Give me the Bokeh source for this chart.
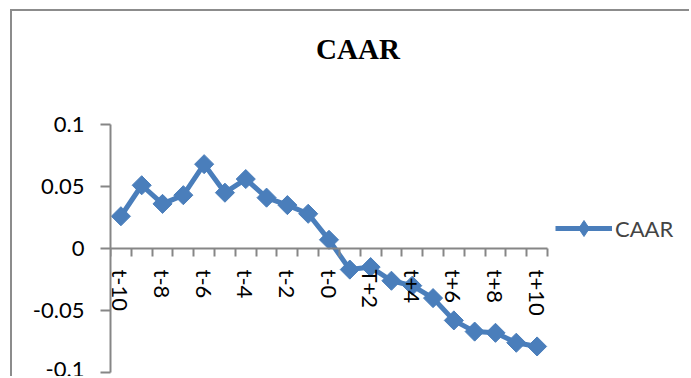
import numpy as np
from bokeh.plotting import figure
from bokeh.models import (Range1d, FixedTicker, LinearAxis, NumeralTickFormatter,
                          Legend, LegendItem, Label)
from bokeh.embed import file_html
from bokeh.resources import INLINE

# ---- data ----
categories = ["t-10", "t-9", "t-8", "t-7", "t-6", "t-5", "t-4", "t-3", "t-2", "t-1", "t-0",
              "t+1", "T+2", "t+3", "t+4", "t+5", "t+6", "t+7", "t+8", "t+9", "t+10"]
caar = [0.026, 0.051, 0.036, 0.043, 0.068, 0.045, 0.056, 0.041, 0.035, 0.028, 0.007,
        -0.017, -0.015, -0.026, -0.030, -0.040, -0.058, -0.067, -0.068, -0.076, -0.079]
y_ticks = [-0.1, -0.05, 0, 0.05, 0.1]
series_name = "CAAR"
title_text = "CAAR"

BLUE = "#4A7EBB"
GRAY = "#868686"
FONT = "Lato"

n = len(categories)
xs = list(range(n))
cat_bounds = (-0.5, n - 0.5)
val_bounds = (min(y_ticks), max(y_ticks))

# ---- layout (pixels on the canvas) ----
W, H = 679, 367
LEFT = 98            # space for the value axis
PLOT_W = 437         # width of the category area
GRID_TOP, GRID_BOT = 113, 361   # canvas y of top / bottom gridline
px_x = PLOT_W / n
px_y = (GRID_BOT - GRID_TOP) / (val_bounds[1] - val_bounds[0])
x_end = -0.5 + (W - LEFT) / px_x
y_end = val_bounds[1] + GRID_TOP / px_y
y_start = val_bounds[0] - (H - GRID_BOT) / px_y

p = figure(width=W, height=H, output_backend="svg", toolbar_location=None,
           x_range=Range1d(-0.5, x_end), y_range=Range1d(y_start, y_end),
           min_border_left=LEFT, min_border_right=0, min_border_top=0, min_border_bottom=0,
           x_axis_type=None, y_axis_type=None)
p.outline_line_color = None
p.background_fill_color = "white"
p.border_fill_color = "white"
p.styles = {"margin-left": "10px", "margin-top": "9px",
            "border-left": "2px solid #8c8c8c", "border-top": "2px solid #8c8c8c"}

# title
p.add_layout(Label(x=-0.5 + (345.5 - LEFT) / px_x, y=val_bounds[1] + (GRID_TOP - 37) / px_y,
                   text=title_text, text_align="center", text_baseline="middle",
                   text_font="Liberation Serif", text_font_style="bold",
                   text_font_size="29px", text_color="black"))

# y axis
yaxis = LinearAxis(ticker=FixedTicker(ticks=y_ticks), formatter=NumeralTickFormatter(format="0.[00]"),
                   bounds=val_bounds)
yaxis.axis_line_color = GRAY
yaxis.axis_line_width = 2
yaxis.major_tick_line_color = GRAY
yaxis.major_tick_line_width = 2
yaxis.major_tick_out = 10
yaxis.major_tick_in = 0
yaxis.minor_tick_line_color = None
yaxis.major_label_standoff = 16
yaxis.major_label_text_font = FONT
yaxis.major_label_text_font_size = "22px"
yaxis.major_label_text_color = "black"
p.add_layout(yaxis, "left")

# x axis: boundary ticks
bounds = [i - 0.5 for i in range(n + 1)]
xaxis_ticks = LinearAxis(ticker=FixedTicker(ticks=bounds), fixed_location=0, bounds=cat_bounds)
xaxis_ticks.axis_line_color = GRAY
xaxis_ticks.axis_line_width = 2
xaxis_ticks.major_tick_line_color = GRAY
xaxis_ticks.major_tick_line_width = 2
xaxis_ticks.major_tick_out = 8
xaxis_ticks.major_tick_in = 0
xaxis_ticks.minor_tick_line_color = None
xaxis_ticks.major_label_text_alpha = 0
p.add_layout(xaxis_ticks, "below")

# x axis: category labels (every other)
lab_idx = xs[::2]
xaxis_labels = LinearAxis(ticker=FixedTicker(ticks=lab_idx), fixed_location=0,
                          major_label_overrides={i: categories[i] for i in lab_idx})
xaxis_labels.axis_line_color = None
xaxis_labels.major_tick_line_color = None
xaxis_labels.minor_tick_line_color = None
xaxis_labels.major_tick_out = 0
xaxis_labels.major_label_standoff = 21
xaxis_labels.major_label_orientation = -np.pi / 2
xaxis_labels.major_label_text_font = FONT
xaxis_labels.major_label_text_font_size = "22px"
xaxis_labels.major_label_text_color = "black"
p.add_layout(xaxis_labels, "below")

# grid
p.ygrid.ticker = FixedTicker(ticks=y_ticks)
p.ygrid.grid_line_color = GRAY
p.ygrid.grid_line_width = 2
p.ygrid.bounds = cat_bounds
p.xgrid.grid_line_color = None

# series
ln = p.line(xs, caar, line_color=BLUE, line_width=5)
# diamond glyph used for the legend entry (hidden under the plotted markers)
lg_mk = p.scatter(xs, caar, marker="diamond", size=10, fill_color=BLUE, line_color=BLUE)
mk = p.scatter(xs, caar, marker="square", angle=np.pi / 4, size=13.5,
               fill_color=BLUE, line_color=BLUE)

legend = Legend(items=[LegendItem(label=series_name, renderers=[ln, lg_mk])],
                location=(445, 130), glyph_width=57, glyph_height=40,
                label_standoff=3, padding=0, margin=0, spacing=0,
                border_line_color=None, background_fill_alpha=0,
                label_text_font=FONT, label_text_font_size="22px")
p.add_layout(legend, "center")

open("out.html", "w").write(file_html(p, INLINE))
